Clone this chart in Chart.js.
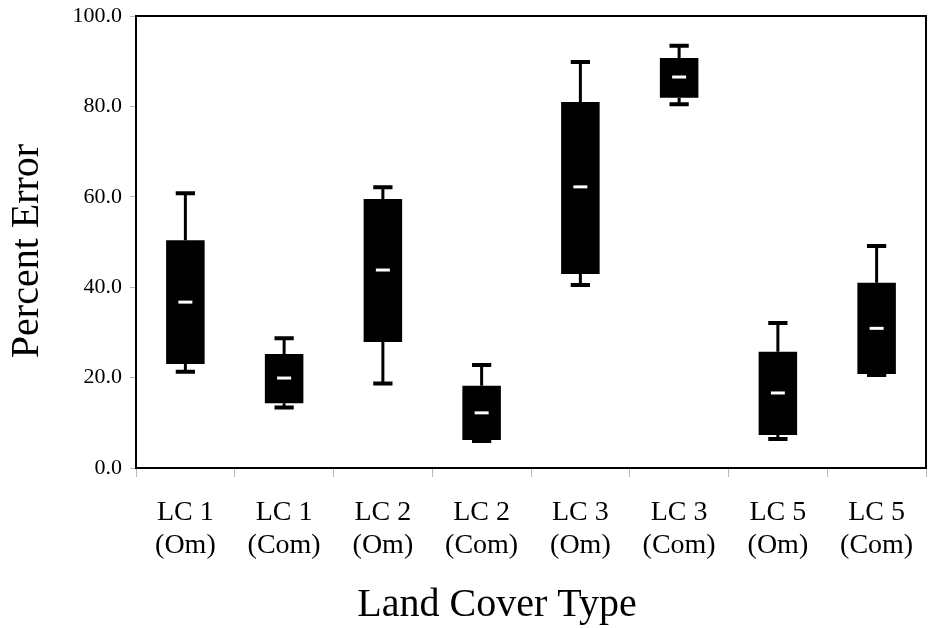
<!DOCTYPE html>
<html>
<head>
<meta charset="utf-8">
<script src="https://cdn.jsdelivr.net/npm/chart.js@4"></script>
<style>
  html, body { margin: 0; padding: 0; background: #fff; }
  #wrap { width: 928px; height: 628px; }
</style>
</head>
<body>
<div id="wrap"><canvas id="chart" width="928" height="628"></canvas></div>
<script>
// Land cover classes (omission / commission error)
const categories = [
  ["LC 1", "(Om)"], ["LC 1", "(Com)"],
  ["LC 2", "(Om)"], ["LC 2", "(Com)"],
  ["LC 3", "(Om)"], ["LC 3", "(Com)"],
  ["LC 5", "(Om)"], ["LC 5", "(Com)"]
];

// Five-number summaries of percent error per class
const whiskerLow  = [21.3, 13.4, 18.7,  6.0, 40.5, 80.5,  6.4, 20.6];
const quartile1   = [23.0, 14.3, 27.9,  6.2, 42.9, 81.9,  7.3, 20.8];
const medians     = [36.7, 19.9, 43.8, 12.2, 62.2, 86.5, 16.6, 30.9];
const quartile3   = [50.4, 25.2, 59.5, 18.2, 81.0, 90.7, 25.7, 41.0];
const whiskerHigh = [60.8, 28.7, 62.1, 22.8, 89.8, 93.4, 32.1, 49.1];

const yTicks = [0, 20, 40, 60, 80, 100];

const serif = "'Liberation Serif', 'Times New Roman', serif";

// Whiskers, caps and median marks drawn on top of the box bars
const boxExtras = {
  id: 'boxExtras',
  afterDatasetsDraw(chart) {
    const { ctx, scales: { x, y } } = chart;
    const meta = chart.getDatasetMeta(0);
    ctx.save();
    categories.forEach((_, i) => {
      const cx = x.getPixelForValue(i);
      const bw = meta.data[i].width;
      const capW = bw * 0.5;
      const yMin = y.getPixelForValue(whiskerLow[i]);
      const yQ1 = y.getPixelForValue(quartile1[i]);
      const yQ3 = y.getPixelForValue(quartile3[i]);
      const yMax = y.getPixelForValue(whiskerHigh[i]);
      const yMed = y.getPixelForValue(medians[i]);
      ctx.strokeStyle = '#000';
      ctx.lineCap = 'butt';
      // stems
      ctx.lineWidth = 3;
      ctx.beginPath();
      ctx.moveTo(cx, yQ3); ctx.lineTo(cx, yMax);
      ctx.moveTo(cx, yQ1); ctx.lineTo(cx, yMin);
      ctx.stroke();
      // caps
      ctx.lineWidth = 4;
      ctx.beginPath();
      ctx.moveTo(cx - capW / 2, yMax); ctx.lineTo(cx + capW / 2, yMax);
      ctx.moveTo(cx - capW / 2, yMin); ctx.lineTo(cx + capW / 2, yMin);
      ctx.stroke();
      // median
      ctx.strokeStyle = '#fff';
      ctx.lineWidth = 3;
      ctx.beginPath();
      ctx.moveTo(cx - 7, yMed); ctx.lineTo(cx + 7, yMed);
      ctx.stroke();
    });
    ctx.restore();
  }
};

// Frame around the plot area and the two axis titles
const frameAndTitles = {
  id: 'frameAndTitles',
  afterDraw(chart) {
    const { ctx, chartArea: a } = chart;
    ctx.save();
    ctx.strokeStyle = '#000';
    ctx.lineWidth = 2;
    ctx.strokeRect(a.left, a.top, a.right - a.left, a.bottom - a.top);

    ctx.fillStyle = '#000';
    ctx.font = '40px ' + serif;
    ctx.textAlign = 'center';
    ctx.textBaseline = 'middle';
    ctx.fillText('Land Cover Type', 497, 605);

    ctx.translate(27, 251);
    ctx.rotate(-Math.PI / 2);
    ctx.fillText('Percent Error', 0, 0);
    ctx.restore();
  }
};

new Chart(document.getElementById('chart'), {
  type: 'bar',
  data: {
    labels: categories,
    datasets: [{
      data: quartile1.map((q, i) => [q, quartile3[i]]),
      backgroundColor: '#000',
      borderWidth: 0,
      barPercentage: 0.39,
      categoryPercentage: 1.0
    }]
  },
  options: {
    responsive: false,
    animation: false,
    devicePixelRatio: 1,
    layout: { padding: { top: 16, right: 2, left: 0, bottom: 0 } },
    plugins: {
      legend: { display: false },
      tooltip: { enabled: false }
    },
    scales: {
      x: {
        offset: true,
        grid: {
          offset: true,
          drawOnChartArea: false,
          drawTicks: true,
          tickLength: 9,
          color: '#b8b8b8',
          lineWidth: 1
        },
        border: { display: true, color: '#000', width: 2 },
        ticks: {
          color: '#000',
          font: { family: serif, size: 28, lineHeight: 1.18 },
          padding: 19,
          maxRotation: 0,
          autoSkip: false
        },
        afterFit(scale) {
          scale.height = 160;
          scale.paddingLeft = 0;
          scale.paddingRight = 0;
        }
      },
      y: {
        min: 0,
        max: 100,
        afterBuildTicks(scale) { scale.ticks = yTicks.map(v => ({ value: v })); },
        grid: {
          drawOnChartArea: false,
          drawTicks: true,
          tickLength: 6,
          color: '#b8b8b8',
          lineWidth: 1
        },
        border: { display: true, color: '#000', width: 2 },
        ticks: {
          color: '#000',
          font: { family: serif, size: 22 },
          padding: 8,
          callback: v => Number(v).toFixed(1)
        },
        afterFit(scale) {
          scale.width = 136;
          scale.paddingTop = 0;
          scale.paddingBottom = 0;
        }
      }
    }
  },
  plugins: [boxExtras, frameAndTitles]
});
</script>
</body>
</html>
